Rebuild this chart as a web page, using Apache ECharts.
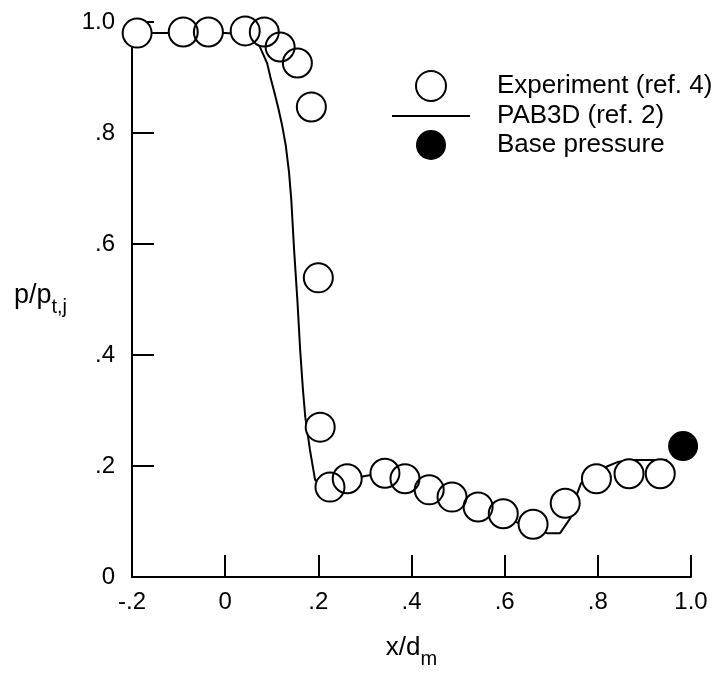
<!DOCTYPE html>
<html>
<head>
<meta charset="utf-8">
<script src="https://cdn.jsdelivr.net/npm/echarts@6/dist/echarts.min.js"></script>
<style>
html,body{margin:0;padding:0;background:#fff;}
#c{width:722px;height:674px;}
</style>
</head>
<body>
<div id="c"></div>
<script>
// Experiment (ref. 4)
const expX = [-0.189, -0.090, -0.036, 0.043, 0.084, 0.118, 0.155, 0.185, 0.200, 0.204, 0.225, 0.262, 0.343, 0.386, 0.438, 0.487, 0.543, 0.597, 0.661, 0.730, 0.797, 0.867, 0.934];
const expY = [0.980, 0.982, 0.982, 0.984, 0.982, 0.955, 0.926, 0.847, 0.539, 0.270, 0.162, 0.177, 0.187, 0.177, 0.157, 0.144, 0.126, 0.114, 0.095, 0.133, 0.177, 0.186, 0.186];
// PAB3D (ref. 2)
const cfdX = [-0.2, 0.0, 0.04, 0.06, 0.071, 0.09, 0.097, 0.106, 0.114, 0.122, 0.130, 0.137, 0.142, 0.148, 0.155, 0.161, 0.167, 0.172, 0.182, 0.193, 0.200, 0.21, 0.25, 0.30, 0.34, 0.40, 0.45, 0.50, 0.55, 0.60, 0.64, 0.665, 0.691, 0.719, 0.741, 0.756, 0.764, 0.80, 0.822, 0.842, 0.876, 0.949];
const cfdY = [0.980, 0.980, 0.978, 0.970, 0.962, 0.926, 0.901, 0.872, 0.845, 0.815, 0.778, 0.730, 0.679, 0.589, 0.499, 0.409, 0.337, 0.288, 0.229, 0.175, 0.170, 0.167, 0.172, 0.182, 0.187, 0.172, 0.152, 0.135, 0.120, 0.105, 0.095, 0.085, 0.079, 0.079, 0.106, 0.151, 0.169, 0.190, 0.200, 0.207, 0.211, 0.211];
// Base pressure
const baseX = [0.983];
const baseY = [0.236];
// tick labels
const xTickLabels = ['-.2', '0', '.2', '.4', '.6', '.8', '1.0'];
const yTickLabels = ['0', '.2', '.4', '.6', '.8', '1.0'];

const zip = (a, b) => a.map((v, i) => [v, b[i]]);
const FONT = "'Liberation Sans', Arial, Helvetica, sans-serif";

const chart = echarts.init(document.getElementById('c'), null, {renderer: 'canvas'});
chart.setOption({
  backgroundColor: '#fff',
  animation: false,
  textStyle: {fontFamily: FONT, color: '#000'},
  grid: {left: 132, right: 31, top: 22, bottom: 97, containLabel: false, outerBoundsMode: 'none'},
  legend: {
    orient: 'vertical',
    left: 386, top: 65,
    itemWidth: 78, itemHeight: 30, itemGap: 1,
    selectedMode: false,
    data: [
      {name: 'Experiment (ref. 4)'},
      {name: 'PAB3D (ref. 2)', itemStyle: {color: 'rgba(0,0,0,0)', borderColor: 'rgba(0,0,0,0)', borderWidth: 0}},
      {name: 'Base pressure'}
    ],
    textStyle: {fontFamily: FONT, fontSize: 26, color: '#000', padding: [0, 0, 0, 22]}
  },
  xAxis: {
    type: 'value', min: -0.2, max: 1.0, interval: 0.2,
    name: '{a|x/d}{b|m}',
    nameLocation: 'middle', nameGap: 58,
    nameTextStyle: {
      rich: {
        a: {fontFamily: FONT, fontSize: 26, color: '#000', verticalAlign: 'bottom', padding: [0, 0, 8, 0]},
        b: {fontFamily: FONT, fontSize: 20, color: '#000', verticalAlign: 'bottom'}
      }
    },
    axisLine: {onZero: false, lineStyle: {color: '#000', width: 2}},
    axisTick: {inside: true, length: 22, lineStyle: {color: '#000', width: 2}},
    splitLine: {show: false},
    axisLabel: {
      color: '#000', fontFamily: FONT, fontSize: 24, margin: 13,
      formatter: v => xTickLabels[Math.round((v + 0.2) / 0.2)]
    }
  },
  yAxis: {
    type: 'value', min: 0, max: 1.0, interval: 0.2,
    name: '{a|p/p}{b|t,j}',
    nameLocation: 'middle', nameGap: 65, nameRotate: 0,
    nameTextStyle: {
      rich: {
        a: {fontFamily: FONT, fontSize: 27, color: '#000', verticalAlign: 'bottom', padding: [0, 0, 8, 0]},
        b: {fontFamily: FONT, fontSize: 20, color: '#000', verticalAlign: 'bottom'}
      }
    },
    axisLine: {onZero: false, lineStyle: {color: '#000', width: 2}},
    axisTick: {inside: true, length: 22, lineStyle: {color: '#000', width: 2}},
    splitLine: {show: false},
    axisLabel: {
      color: '#000', fontFamily: FONT, fontSize: 24, margin: 17,
      formatter: v => yTickLabels[Math.round(v / 0.2)]
    }
  },
  series: [
    {
      name: 'PAB3D (ref. 2)', type: 'line', data: zip(cfdX, cfdY),
      symbol: 'none', smooth: false, clip: false, z: 2,
      lineStyle: {color: '#000', width: 2},
      itemStyle: {color: '#000'}
    },
    {
      name: 'mask', type: 'scatter', data: zip(expX, expY),
      symbol: 'circle', symbolSize: 29, clip: false, z: 3, silent: true,
      itemStyle: {color: '#fff', borderWidth: 0, opacity: 1}
    },
    {
      name: 'Experiment (ref. 4)', type: 'scatter', data: zip(expX, expY),
      symbol: 'circle', symbolSize: 29, symbolKeepAspect: true, clip: false, z: 4,
      itemStyle: {color: 'rgba(255,255,255,0)', borderColor: '#000', borderWidth: 2, opacity: 1}
    },
    {
      name: 'Base pressure', type: 'scatter', data: zip(baseX, baseY),
      symbol: 'circle', symbolSize: 30, symbolKeepAspect: true, clip: false, z: 4,
      itemStyle: {color: '#000', borderColor: '#000', borderWidth: 0, opacity: 1}
    }
  ]
});
</script>
</body>
</html>
